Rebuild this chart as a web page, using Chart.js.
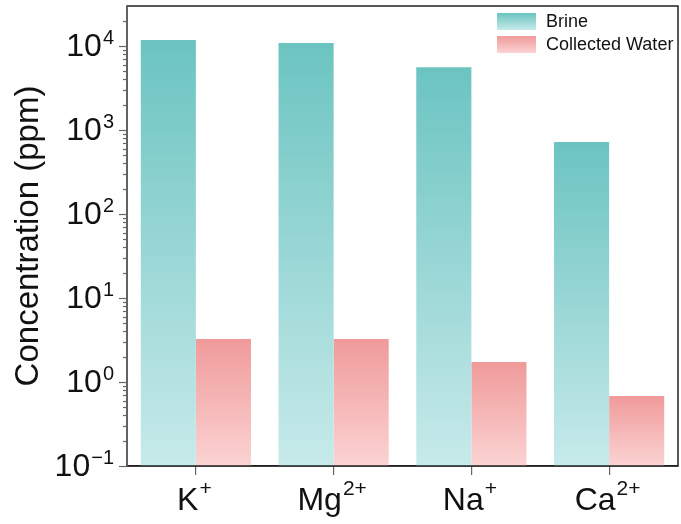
<!DOCTYPE html>
<html>
<head>
<meta charset="utf-8">
<script src="https://cdn.jsdelivr.net/npm/chart.js@4/dist/chart.umd.min.js"></script>
<style>
    body { margin: 0; background: #fff; }
    #wrap { width: 681px; height: 524px; position: relative; }
</style>
</head>
<body>
<div id="wrap"><canvas id="ionChart"></canvas></div>
<script>
// data
const categories = ['K+', 'Mg2+', 'Na+', 'Ca2+'];
const ionSymbols = ['K', 'Mg', 'Na', 'Ca'];
const ionCharges = ['+', '2+', '+', '2+'];
const brine = [11800, 10900, 5600, 720];
const collectedWater = [3.25, 3.25, 1.73, 0.68];
const yExponents = [-1, 0, 1, 2, 3, 4];
const yMin = 0.1;
const yMax = 30000;

const FONT = '"Liberation Sans", Arial, sans-serif';
const brineColors = ['#6bc4c1', '#c7eaea'];
const waterColors = ['#f09a9a', '#fbd3d3'];

// each bar gets its own top-to-bottom gradient
function barGradient(c, colors) {
    const chart = c.chart;
    const area = chart.chartArea;
    if (!area || c.type !== 'data') return colors[0];
    const top = chart.scales.y.getPixelForValue(c.raw);
    const g = chart.ctx.createLinearGradient(0, top, 0, area.bottom);
    g.addColorStop(0, colors[0]);
    g.addColorStop(1, colors[1]);
    return g;
}

const decorations = {
    id: 'decorations',
    afterDraw(chart) {
        const ctx = chart.ctx;
        const a = chart.chartArea;
        const x = chart.scales.x;
        const y = chart.scales.y;
        ctx.save();

        // frame
        ctx.strokeStyle = '#222';
        ctx.lineWidth = 1.5;
        ctx.strokeRect(a.left, a.top, a.right - a.left, a.bottom - a.top);
        ctx.strokeStyle = '#666';
        ctx.beginPath();
        ctx.moveTo(a.left, a.top);
        ctx.lineTo(a.left, a.bottom);
        ctx.stroke();

        // y ticks, major + minor
        ctx.lineWidth = 1.2;
        yExponents.forEach(e => {
            for (let m = 1; m <= 9; m++) {
                const v = m * Math.pow(10, e);
                if (v >= yMax) break;
                const py = Math.round(y.getPixelForValue(v)) + 0.5;
                const len = m === 1 ? 8 : 4;
                ctx.beginPath();
                ctx.moveTo(a.left - len, py);
                ctx.lineTo(a.left, py);
                ctx.stroke();
            }
        });

        // y tick labels 10^n
        ctx.fillStyle = '#111';
        yExponents.forEach(e => {
            const py = y.getPixelForValue(Math.pow(10, e));
            const sup = String(e).replace('-', '\u2212');
            ctx.font = '20px ' + FONT;
            const supW = ctx.measureText(sup).width;
            ctx.textAlign = 'left';
            ctx.textBaseline = 'alphabetic';
            ctx.fillText(sup, 114 - supW, py - 2);
            ctx.font = '32px ' + FONT;
            ctx.textAlign = 'right';
            ctx.textBaseline = 'middle';
            ctx.fillText('10', 114 - supW - 1, py + 1);
        });

        // x labels with charges
        ctx.textBaseline = 'alphabetic';
        ctx.textAlign = 'left';
        ionSymbols.forEach((s, i) => {
            const px = x.getPixelForValue(i);
            ctx.font = '32px ' + FONT;
            const w1 = ctx.measureText(s).width;
            ctx.font = '21px ' + FONT;
            const w2 = ctx.measureText(ionCharges[i]).width;
            const start = px - (w1 + w2) / 2 - 2;
            ctx.font = '32px ' + FONT;
            ctx.fillText(s, start, 510);
            ctx.font = '21px ' + FONT;
            ctx.fillText(ionCharges[i], start + w1 + 1, 495);
        });

        // legend inside the plot
        const items = [[chart.data.datasets[0].label, brineColors], [chart.data.datasets[1].label, waterColors]];
        items.forEach((it, i) => {
            const top = 13 + i * 23;
            const g = ctx.createLinearGradient(0, top, 0, top + 17);
            g.addColorStop(0, it[1][0]);
            g.addColorStop(1, it[1][1]);
            ctx.fillStyle = g;
            ctx.fillRect(497, top, 39, 17);
            ctx.fillStyle = '#111';
            ctx.font = '18px ' + FONT;
            ctx.textBaseline = 'middle';
            ctx.fillText(it[0], 546, top + 9);
        });
        ctx.restore();
    }
};

const ctx = document.getElementById('ionChart').getContext('2d');
const ionChart = new Chart(ctx, {
    type: 'bar',
    data: {
        labels: categories,
        datasets: [{
            label: 'Brine',
            data: brine,
            backgroundColor: c => barGradient(c, brineColors),
            categoryPercentage: 0.8,
            barPercentage: 1.0,
        }, {
            label: 'Collected Water',
            data: collectedWater,
            backgroundColor: c => barGradient(c, waterColors),
            categoryPercentage: 0.8,
            barPercentage: 1.0,
        }]
    },
    options: {
        responsive: true,
        maintainAspectRatio: false,
        animation: false,
        layout: { padding: { top: 6, right: 3, left: 0, bottom: 0 } },
        plugins: {
            legend: { display: false },
            tooltip: { enabled: false },
        },
        scales: {
            x: {
                grid: { display: true, drawOnChartArea: false, offset: false, tickLength: 9, color: '#666', lineWidth: 1.2 },
                border: { display: true, color: '#222', width: 1.5 },
                ticks: { display: false },
                afterFit: s => { s.height = 58; },
            },
            y: {
                type: 'logarithmic',
                min: yMin,
                max: yMax,
                grid: { display: false },
                border: { display: false },
                ticks: { display: false },
                title: {
                    display: true,
                    text: 'Concentration (ppm)',
                    color: '#111',
                    font: { family: FONT, size: 33 },
                    padding: { top: 9, bottom: 0 },
                },
                afterFit: s => { s.width = 127; },
            }
        }
    },
    plugins: [decorations]
});
</script>
</body>
</html>
